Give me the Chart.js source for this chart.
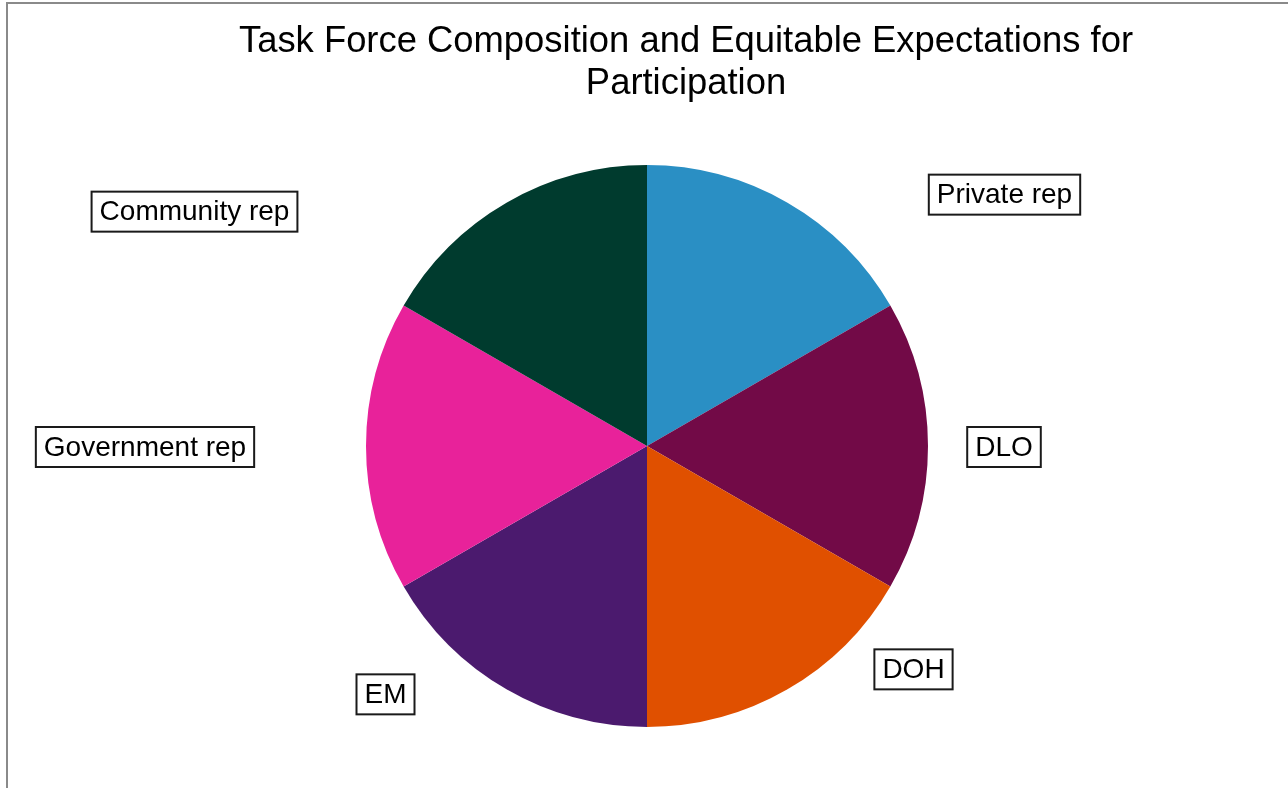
<!DOCTYPE html>
<html>
<head>
<meta charset="utf-8">
<script src="https://cdn.jsdelivr.net/npm/chart.js@4"></script>
<style>
  body { margin: 0; background: #fff; }
  #wrap { position: relative; width: 1288px; height: 788px; overflow: hidden; }
  #frame { position: absolute; left: 6px; top: 2px; width: 1400px; height: 900px;
           border-left: 2px solid #8a8a8a; border-top: 2px solid #8a8a8a; }
  canvas { position: absolute; left: 0; top: 0; }
</style>
</head>
<body>
<div id="wrap">
  <div id="frame"></div>
  <canvas id="graficoPizza" width="1288" height="788"></canvas>
</div>
<script>
// dados do grafico
var categorias = ["Private rep", "DLO", "DOH", "EM", "Government rep", "Community rep"];
var valores = [1, 1, 1, 1, 1, 1];
var cores = ["#2a8fc4", "#720a47", "#e05000", "#4b1a6e", "#e8229a", "#003b2e"];
var tituloLinhas = ["Task Force Composition and Equitable Expectations for", "Participation"];

// deslocamento de cada rotulo a partir do ponto externo do meio da fatia
var deslocRotulo = [[217, -8], [76, 1], [126, -20], [-121, 5], [-221, 1], [-312, 9]];

var fonte = "'Liberation Sans', Arial, sans-serif";

// titulo desenhado a mao para ficar fora do centro da pizza
const pluginTitulo = {
    id: "tituloLivre",
    afterDraw(chart) {
        var ctx = chart.ctx;
        ctx.save();
        ctx.font = "36.4px " + fonte;
        ctx.fillStyle = "#000";
        ctx.textAlign = "center";
        ctx.textBaseline = "middle";
        ctx.fillText(tituloLinhas[0], 686, 42);
        ctx.fillText(tituloLinhas[1], 686, 84);
        ctx.restore();
    }
};

// rotulos com caixa, ligados a cada fatia
const pluginRotulos = {
    id: "rotulosCaixa",
    afterDatasetsDraw(chart) {
        var ctx = chart.ctx;
        var arcos = chart.getDatasetMeta(0).data;
        ctx.save();
        ctx.font = "28px " + fonte;
        ctx.textAlign = "center";
        ctx.textBaseline = "middle";
        arcos.forEach(function (arco, i) {
            var p = arco.getProps(["x", "y", "startAngle", "endAngle", "outerRadius"], true);
            var meio = (p.startAngle + p.endAngle) / 2;
            var px = p.x + Math.cos(meio) * p.outerRadius + deslocRotulo[i][0];
            var py = p.y + Math.sin(meio) * p.outerRadius + deslocRotulo[i][1];
            var texto = chart.data.labels[i];
            var w = ctx.measureText(texto).width + 16;
            var h = 40;
            ctx.fillStyle = "#fff";
            ctx.fillRect(px - w / 2, py - h / 2, w, h);
            ctx.strokeStyle = "#1a1a1a";
            ctx.lineWidth = 2;
            ctx.strokeRect(px - w / 2, py - h / 2, w, h);
            ctx.fillStyle = "#000";
            ctx.fillText(texto, px, py + 1);
        });
        ctx.restore();
    }
};

const config = {
    type: "pie",
    data: {
        labels: categorias,
        datasets: [{
            data: valores,
            backgroundColor: cores,
            borderWidth: 0,
            offset: 0,
            hoverOffset: 0
        }]
    },
    options: {
        responsive: false,
        animation: false,
        layout: { padding: { top: 165, bottom: 61, left: 6, right: 0 } },
        plugins: {
            legend: { display: false },
            tooltip: { enabled: false },
            title: { display: false }
        }
    },
    plugins: [pluginTitulo, pluginRotulos]
};

var graficoPizza = new Chart(document.getElementById("graficoPizza"), config);
</script>
</body>
</html>
